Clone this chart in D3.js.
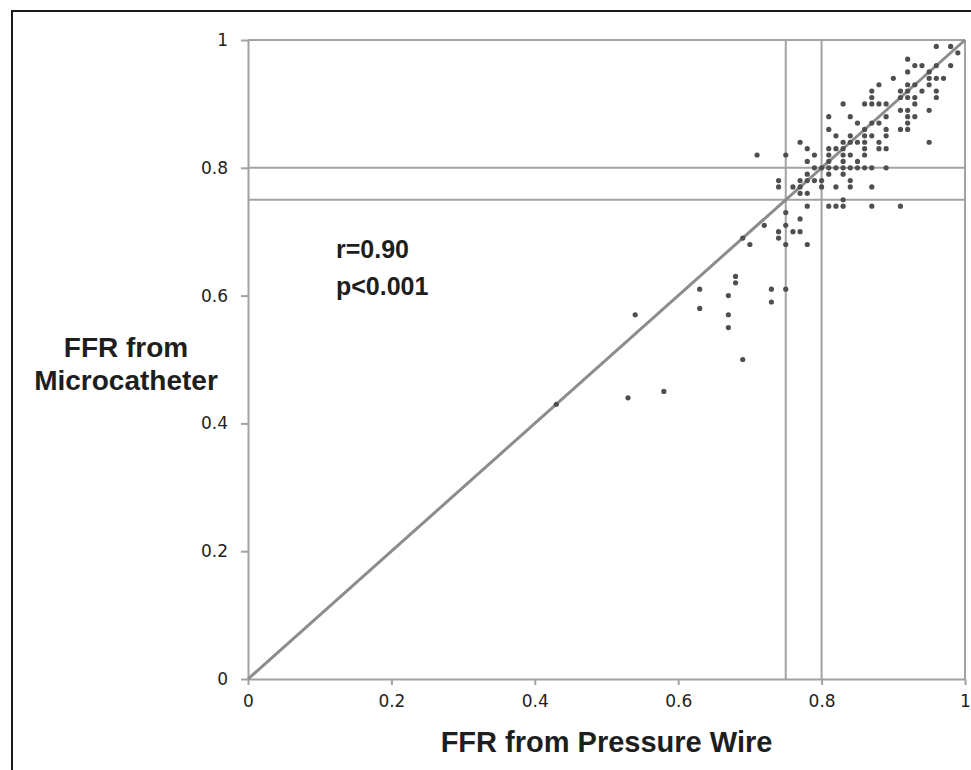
<!DOCTYPE html>
<html lang="en">
  <head>
  <meta charset="utf-8" />
  <title>FFR microcatheter vs pressure wire</title>
  <style>
    body { margin: 0; background: #fff; }
    svg { display: block; }
  </style>
  </head>
  <body>
    <div class="container"></div>

    <script src="https://cdn.jsdelivr.net/npm/d3@7"></script>
    <script type="text/javascript">
      "use strict";

      // FFR from pressure wire (x) / microcatheter (y)
      let ffrWire = [
        0.96, 0.98,
        0.99,
        0.92,
        0.93, 0.94, 0.96, 0.98,
        0.92, 0.95,
        0.90, 0.95, 0.96, 0.97,
        0.88, 0.92, 0.93, 0.95,
        0.87, 0.91, 0.92, 0.94, 0.96,
        0.87, 0.91, 0.92, 0.93, 0.96,
        0.83, 0.86, 0.87, 0.88, 0.89, 0.93,
        0.91, 0.92, 0.95,
        0.81, 0.84, 0.89, 0.92, 0.93,
        0.85, 0.87, 0.88, 0.92,
        0.81, 0.86, 0.89, 0.91, 0.92,
        0.82, 0.84, 0.86, 0.87, 0.89,
        0.77, 0.83, 0.84, 0.85, 0.86, 0.88, 0.95,
        0.78, 0.81, 0.82, 0.83, 0.86, 0.88, 0.89,
        0.71, 0.75, 0.79, 0.81, 0.83, 0.84, 0.86,
        0.78, 0.81, 0.83, 0.85,
        0.79, 0.80, 0.81, 0.82, 0.83, 0.84, 0.85, 0.86, 0.87, 0.89,
        0.78, 0.81, 0.83,
        0.74, 0.77, 0.78, 0.79, 0.80, 0.84,
        0.74, 0.76, 0.77, 0.80, 0.82, 0.84, 0.87,
        0.77, 0.78,
        0.83,
        0.78, 0.81, 0.82, 0.83, 0.87, 0.91,
        0.75,
        0.77,
        0.72, 0.75,
        0.74, 0.76, 0.77,
        0.69, 0.74,
        0.70, 0.75, 0.78,
        0.68,
        0.68,
        0.63, 0.73, 0.75,
        0.67,
        0.73,
        0.63,
        0.54, 0.67,
        0.67,
        0.69,
        0.58,
        0.53,
        0.43
      ]
      let ffrMicro = [
        0.99, 0.99,
        0.98,
        0.97,
        0.96, 0.96, 0.96, 0.96,
        0.95, 0.95,
        0.94, 0.94, 0.94, 0.94,
        0.93, 0.93, 0.93, 0.93,
        0.92, 0.92, 0.92, 0.92, 0.92,
        0.91, 0.91, 0.91, 0.91, 0.91,
        0.90, 0.90, 0.90, 0.90, 0.90, 0.90,
        0.89, 0.89, 0.89,
        0.88, 0.88, 0.88, 0.88, 0.88,
        0.87, 0.87, 0.87, 0.87,
        0.86, 0.86, 0.86, 0.86, 0.86,
        0.85, 0.85, 0.85, 0.85, 0.85,
        0.84, 0.84, 0.84, 0.84, 0.84, 0.84, 0.84,
        0.83, 0.83, 0.83, 0.83, 0.83, 0.83, 0.83,
        0.82, 0.82, 0.82, 0.82, 0.82, 0.82, 0.82,
        0.81, 0.81, 0.81, 0.81,
        0.80, 0.80, 0.80, 0.80, 0.80, 0.80, 0.80, 0.80, 0.80, 0.80,
        0.79, 0.79, 0.79,
        0.78, 0.78, 0.78, 0.78, 0.78, 0.78,
        0.77, 0.77, 0.77, 0.77, 0.77, 0.77, 0.77,
        0.76, 0.76,
        0.75,
        0.74, 0.74, 0.74, 0.74, 0.74, 0.74,
        0.73,
        0.72,
        0.71, 0.71,
        0.70, 0.70, 0.70,
        0.69, 0.69,
        0.68, 0.68, 0.68,
        0.63,
        0.62,
        0.61, 0.61, 0.61,
        0.60,
        0.59,
        0.58,
        0.57, 0.57,
        0.55,
        0.50,
        0.45,
        0.44,
        0.43
      ]

      let xTicks = [0, 0.2, 0.4, 0.6, 0.8, 1]
      let xTickLabels = ["0", "0.2", "0.4", "0.6", "0.8", "1"]
      let yTicks = [0, 0.2, 0.4, 0.6, 0.8, 1]
      let yTickLabels = ["0", "0.2", "0.4", "0.6", "0.8", "1"]
      let cutoffsX = [0.75, 0.8]
      let cutoffsY = [0.75, 0.8]
      let identity = [0, 1]
      let statsText = ["r=0.90", "p<0.001"]
      let xTitle = "FFR from Pressure Wire"
      let yTitle = ["FFR from", "Microcatheter"]

      let width = 971
      let height = 770
      let margin = ({top: 40, right: 6, bottom: 91, left: 248})
      let lineGrey = "#a2a2a2"
      let labelFont = "'DejaVu Sans', sans-serif"
      let boldFont = "'Liberation Sans', Arial, sans-serif"

      let svg = d3.select(".container").append("svg")
          .attr("width", width)
          .attr("height", height)

      // outer frame of the figure
      svg.append("rect")
          .attr("x", 12).attr("y", 11)
          .attr("width", 1000).attr("height", 800)
          .attr("fill", "none")
          .attr("stroke", "#1a1a1a")
          .attr("stroke-width", 2)

      let x = d3.scaleLinear()
          .domain([0, 1])
          .range([margin.left, width - margin.right])
      let y = d3.scaleLinear()
          .domain([0, 1])
          .range([height - margin.bottom, margin.top])

      let xAxis = g => g
          .attr("transform", `translate(0,${y(0)})`)
          .call(d3.axisBottom(x).tickValues(xTicks).tickSize(6).tickSizeOuter(0)
                .tickPadding(10).tickFormat((d, i) => xTickLabels[i]))

      let yAxis = g => g
          .attr("transform", `translate(${x(0)},0)`)
          .call(d3.axisLeft(y).tickValues(yTicks).tickSize(7).tickSizeOuter(0)
                .tickPadding(13).tickFormat((d, i) => yTickLabels[i]))

      let styleAxis = g => {
        g.select(".domain").attr("stroke", lineGrey).attr("stroke-width", 2)
        g.selectAll(".tick line").attr("stroke", lineGrey).attr("stroke-width", 2)
        g.selectAll(".tick text")
            .attr("fill", "#222")
            .style("font-family", labelFont)
            .style("font-size", "17px")
      }

      svg.append("g").call(xAxis).call(styleAxis)
      svg.append("g").call(yAxis).call(styleAxis)

      // top and right edges of the plot area
      svg.append("line")
          .attr("x1", x(0)).attr("x2", x(1))
          .attr("y1", y(1)).attr("y2", y(1))
          .attr("stroke", lineGrey).attr("stroke-width", 2)
      svg.append("line")
          .attr("x1", x(1)).attr("x2", x(1))
          .attr("y1", y(1)).attr("y2", y(0))
          .attr("stroke", lineGrey).attr("stroke-width", 2)

      // cut-off lines
      svg.append("g").selectAll("line")
        .data(cutoffsX)
        .join("line")
          .attr("x1", d => x(d)).attr("x2", d => x(d))
          .attr("y1", y(1)).attr("y2", y(0))
          .attr("stroke", lineGrey).attr("stroke-width", 2)
      svg.append("g").selectAll("line")
        .data(cutoffsY)
        .join("line")
          .attr("x1", x(0)).attr("x2", x(1))
          .attr("y1", d => y(d)).attr("y2", d => y(d))
          .attr("stroke", lineGrey).attr("stroke-width", 2)

      // line of identity
      svg.append("path")
          .datum(identity)
          .attr("fill", "none")
          .attr("stroke", "#8c8c8c")
          .attr("stroke-width", 3)
          .attr("d", d3.line().x(d => x(d)).y(d => y(d)))

      // points
      svg.append("g").selectAll("circle")
        .data(d3.range(ffrWire.length))
        .join("circle")
          .attr("cx", i => x(ffrWire[i]))
          .attr("cy", i => y(ffrMicro[i]))
          .attr("r", 2.6)
          .attr("fill", "#4f4f4f")

      // r / p annotation
      svg.append("g").selectAll("text")
        .data(statsText)
        .join("text")
          .attr("x", 336)
          .attr("y", (d, i) => 258 + i * 37)
          .attr("fill", "#1e1e1e")
          .style("font-family", boldFont)
          .style("font-weight", "bold")
          .style("font-size", "25px")
          .text(d => d)

      // axis titles
      svg.append("text")
          .attr("x", (x(0) + x(1)) / 2)
          .attr("y", 752)
          .attr("text-anchor", "middle")
          .attr("fill", "#1e1e1e")
          .style("font-family", boldFont)
          .style("font-weight", "bold")
          .style("font-size", "29px")
          .text(xTitle)

      svg.append("g").selectAll("text")
        .data(yTitle)
        .join("text")
          .attr("x", 126)
          .attr("y", (d, i) => 357 + i * 33)
          .attr("text-anchor", "middle")
          .attr("fill", "#1e1e1e")
          .style("font-family", boldFont)
          .style("font-weight", "bold")
          .style("font-size", "28px")
          .text(d => d)
    </script>
  </body>
</html>
